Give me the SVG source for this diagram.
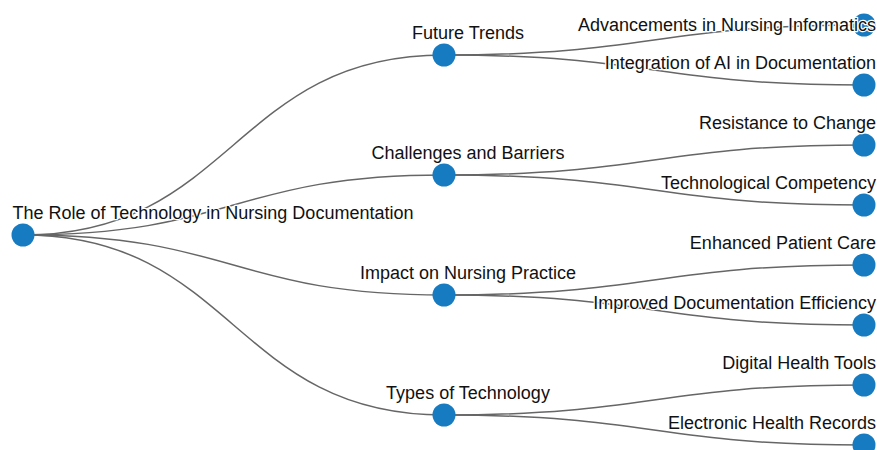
<svg xmlns="http://www.w3.org/2000/svg" width="877" height="450" viewBox="0 0 877 450">
  <style>
    .link { fill: none; stroke: #666; stroke-width: 1.5; }
    .node circle { fill: #167bc0; }
    .node text { font-family: "Liberation Sans", Arial, sans-serif; font-size: 18px; fill: #111; stroke: #fff; stroke-width: 2.5; paint-order: stroke; stroke-linejoin: round; }
    .mid { text-anchor: middle; }
    .end { text-anchor: end; }
  </style>
  <rect width="877" height="450" fill="#fff"/>
  <!-- connectors: horizontal cubic links -->
  <g id="links">
    <path class="link" d="M23,235 C233.5,235 233.5,55 444,55"/>
    <path class="link" d="M23,235 C233.5,235 233.5,175 444,175"/>
    <path class="link" d="M23,235 C233.5,235 233.5,295 444,295"/>
    <path class="link" d="M23,235 C233.5,235 233.5,415 444,415"/>
    <path class="link" d="M444,55 C654,55 654,25 864,25"/>
    <path class="link" d="M444,55 C654,55 654,85 864,85"/>
    <path class="link" d="M444,175 C654,175 654,145 864,145"/>
    <path class="link" d="M444,175 C654,175 654,205 864,205"/>
    <path class="link" d="M444,295 C654,295 654,265 864,265"/>
    <path class="link" d="M444,295 C654,295 654,325 864,325"/>
    <path class="link" d="M444,415 C654,415 654,385 864,385"/>
    <path class="link" d="M444,415 C654,415 654,445 864,445"/>
  </g>
  <!-- root -->
  <g id="root" class="node"><circle cx="23" cy="235" r="11.5"/><text class="mid" x="213" y="219">The Role of Technology in Nursing Documentation</text></g>
  <!-- level 1 -->
  <g id="future-trends" class="node"><circle cx="444" cy="55" r="11.5"/><text class="mid" x="468" y="39">Future Trends</text></g>
  <g id="challenges" class="node"><circle cx="444" cy="175" r="11.5"/><text class="mid" x="468" y="159">Challenges and Barriers</text></g>
  <g id="impact" class="node"><circle cx="444" cy="295" r="11.5"/><text class="mid" x="468" y="279">Impact on Nursing Practice</text></g>
  <g id="types" class="node"><circle cx="444" cy="415" r="11.5"/><text class="mid" x="468" y="399">Types of Technology</text></g>
  <!-- leaves -->
  <g id="informatics" class="node"><circle cx="864" cy="25" r="11.5"/><text class="end" x="876" y="31">Advancements in Nursing Informatics</text></g>
  <g id="ai-integration" class="node"><circle cx="864" cy="85" r="11.5"/><text class="end" x="876" y="69">Integration of AI in Documentation</text></g>
  <g id="resistance" class="node"><circle cx="864" cy="145" r="11.5"/><text class="end" x="876" y="129">Resistance to Change</text></g>
  <g id="competency" class="node"><circle cx="864" cy="205" r="11.5"/><text class="end" x="876" y="189">Technological Competency</text></g>
  <g id="patient-care" class="node"><circle cx="864" cy="265" r="11.5"/><text class="end" x="876" y="249">Enhanced Patient Care</text></g>
  <g id="efficiency" class="node"><circle cx="864" cy="325" r="11.5"/><text class="end" x="876" y="309">Improved Documentation Efficiency</text></g>
  <g id="health-tools" class="node"><circle cx="864" cy="385" r="11.5"/><text class="end" x="876" y="369">Digital Health Tools</text></g>
  <g id="ehr" class="node"><circle cx="864" cy="445" r="11.5"/><text class="end" x="876" y="429">Electronic Health Records</text></g>
</svg>
